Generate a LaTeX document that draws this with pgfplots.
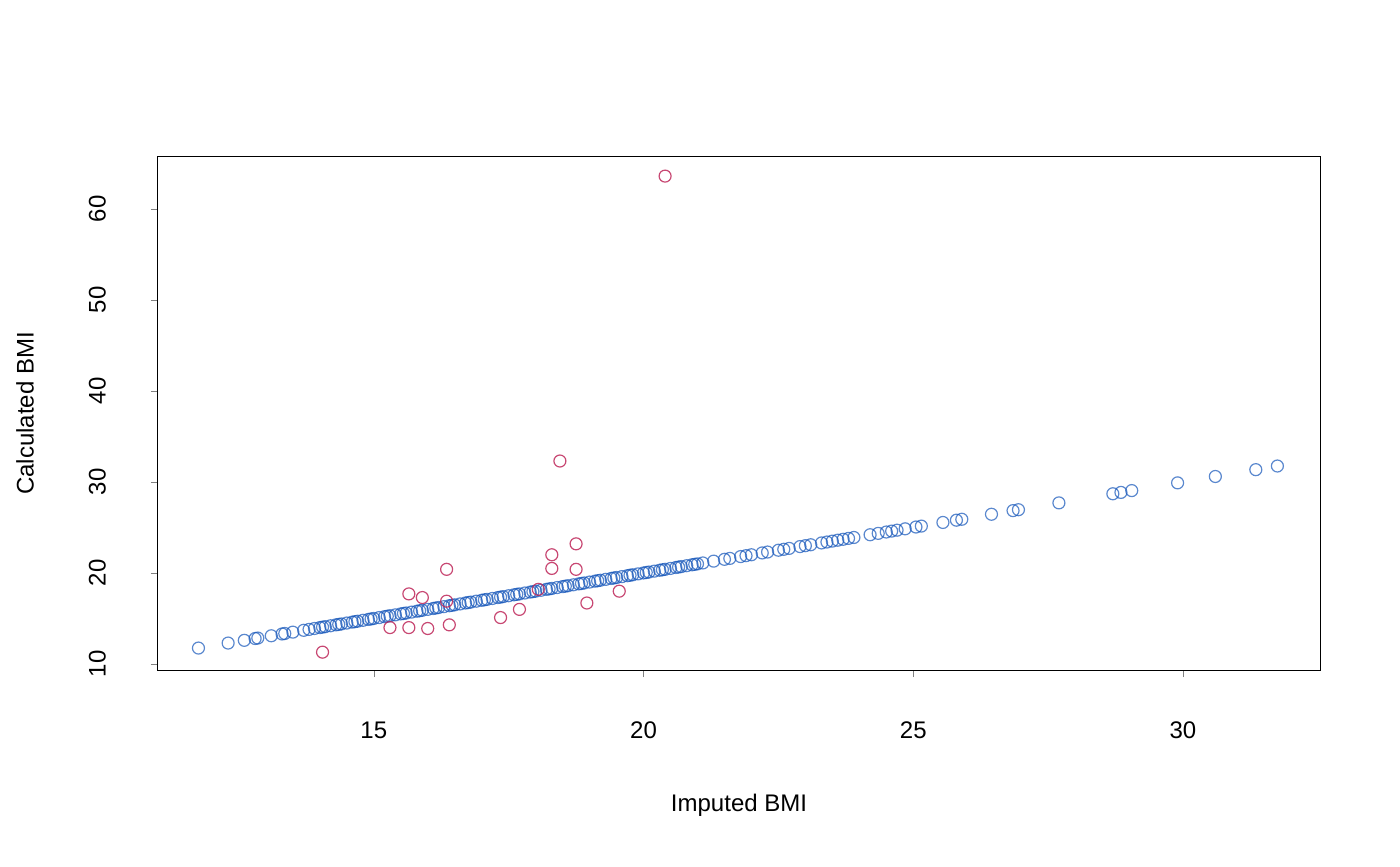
\documentclass[border=0pt]{standalone}
\usepackage{pgfplots}
\pgfplotsset{compat=1.18}
\usepackage{fontspec}
\setmainfont{Liberation Sans}
\definecolor{bl}{RGB}{20,85,185}
\definecolor{rd}{RGB}{190,40,90}
\begin{document}
\begin{tikzpicture}
\path[use as bounding box] (-79pt,-98pt) rectangle (621pt,335pt);
\begin{axis}[
  at={(0,0)}, anchor=south west,
  width=581pt, height=256.5pt, scale only axis,
  xmin=11.0, xmax=32.54, ymin=9.34, ymax=65.7,
  xtick={15,20,25,30}, ytick={10,20,30,40,50,60},
  tick align=outside, major tick length=3.5pt,
  xtick pos=bottom, ytick pos=left,
  font=\fontsize{12}{14}\selectfont,
  /pgf/number format/assume math mode=true,
  xticklabel shift=19pt, yticklabel shift=19pt,
  yticklabel style={rotate=90, anchor=south},
  xlabel={Imputed BMI}, ylabel={Calculated BMI},
  xlabel style={at={(axis description cs:0.5,0)}, anchor=center, yshift=-67.5pt},
  ylabel style={at={(axis description cs:0,0.5)}, anchor=center, yshift=66.5pt},
  axis line style={line width=0.5pt},
]
\addplot[only marks, mark=o, mark size=3pt, mark options={draw=bl, draw opacity=0.7, line width=0.6pt}] coordinates {
(11.75,11.75)(12.3,12.3)(12.6,12.6)(12.8,12.8)(12.85,12.85)(13.1,13.1)(13.3,13.3)(13.35,13.35)(13.5,13.5)
(13.7,13.7)(13.8,13.8)(13.9,13.9)(14.0,14.0)(14.1,14.1)(14.2,14.2)(14.3,14.3)(14.4,14.4)(14.5,14.5)(14.6,14.6)
(14.7,14.7)(14.8,14.8)(14.9,14.9)(15.0,15.0)(15.1,15.1)(15.2,15.2)(15.3,15.3)(15.4,15.4)(15.5,15.5)(15.6,15.6)
(15.7,15.7)(15.8,15.8)(15.9,15.9)(16.0,16.0)(16.1,16.1)(16.2,16.2)(16.3,16.3)(16.4,16.4)(16.5,16.5)(16.6,16.6)
(16.7,16.7)(16.8,16.8)(16.9,16.9)(17.0,17.0)(17.1,17.1)(17.2,17.2)(17.3,17.3)(17.4,17.4)(17.5,17.5)(17.6,17.6)
(17.7,17.7)(17.8,17.8)(17.9,17.9)(18.0,18.0)(18.1,18.1)(18.2,18.2)(18.3,18.3)(18.4,18.4)(18.5,18.5)(18.6,18.6)
(18.7,18.7)(18.8,18.8)(18.9,18.9)(19.0,19.0)(19.1,19.1)(19.2,19.2)(19.3,19.3)(19.4,19.4)(19.5,19.5)(19.6,19.6)
(19.7,19.7)(19.8,19.8)(19.9,19.9)(20.0,20.0)(20.1,20.1)(20.2,20.2)(20.3,20.3)(20.4,20.4)(20.5,20.5)(20.6,20.6)
(20.7,20.7)(20.8,20.8)(20.9,20.9)(21.0,21.0)(21.1,21.1)(21.3,21.3)(21.5,21.5)(21.6,21.6)(21.8,21.8)(21.9,21.9)
(14.05,14.05)(14.35,14.35)(14.65,14.65)(14.95,14.95)(15.25,15.25)(15.55,15.55)(15.85,15.85)(16.15,16.15)
(16.45,16.45)(16.75,16.75)(17.05,17.05)(17.35,17.35)(17.65,17.65)(17.95,17.95)(18.25,18.25)(18.55,18.55)
(18.85,18.85)(19.15,19.15)(19.45,19.45)(19.75,19.75)(20.05,20.05)(20.35,20.35)(20.65,20.65)(20.95,20.95)
(22.0,22.0)(22.2,22.2)(22.3,22.3)(22.5,22.5)(22.6,22.6)(22.7,22.7)(22.9,22.9)(23.0,23.0)(23.1,23.1)(23.3,23.3)
(23.4,23.4)(23.5,23.5)(23.6,23.6)(23.7,23.7)(23.8,23.8)(23.9,23.9)
(24.2,24.2)(24.35,24.35)(24.5,24.5)(24.6,24.6)(24.7,24.7)(24.85,24.85)(25.05,25.05)(25.15,25.15)(25.55,25.55)
(25.8,25.8)(25.9,25.9)(26.45,26.45)(26.85,26.85)(26.95,26.95)(27.7,27.7)(28.7,28.7)(28.85,28.85)(29.05,29.05)
(29.9,29.9)(30.6,30.6)(31.35,31.35)(31.75,31.75)
};
\addplot[only marks, mark=o, mark size=3pt, mark options={draw=rd, draw opacity=0.85, line width=0.6pt}] coordinates {
(20.4,63.6)(18.45,32.3)(18.75,23.2)(18.3,22.0)(16.35,20.4)(18.3,20.5)(18.75,20.4)(15.65,17.7)(15.9,17.3)
(16.35,16.9)(18.05,18.2)(17.7,16.0)(17.35,15.1)(18.95,16.7)(19.55,18.0)(15.3,14.0)(15.65,14.0)(16.0,13.9)
(16.4,14.3)(14.05,11.3)
};
\end{axis}
\end{tikzpicture}
\end{document}
